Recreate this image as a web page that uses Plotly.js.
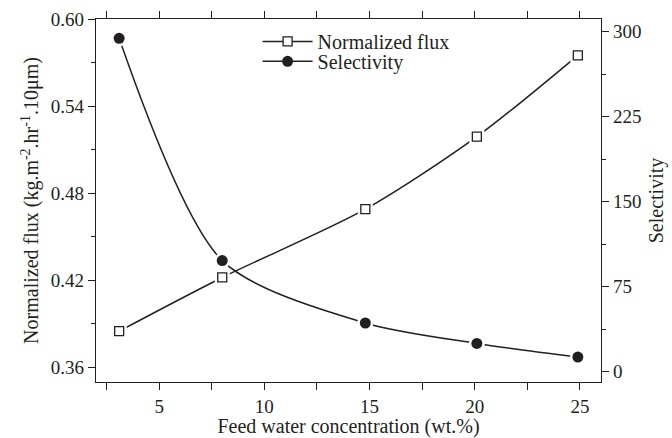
<!DOCTYPE html>
<html>
<head>
<meta charset="utf-8">
<script src="https://cdn.plot.ly/plotly-3.0.1.min.js"></script>
<style>html,body{margin:0;padding:0;background:#fff}#chart{width:672px;height:438px}</style>
</head>
<body>
<div id="chart"></div>
<script>
var feedWater = [3.1, 8.0, 14.8, 20.1, 24.9];
var normalizedFlux = [0.385, 0.422, 0.469, 0.519, 0.575];
var selectivity = [294, 98, 43, 25, 13];
var fluxTicks = [0.36, 0.42, 0.48, 0.54, 0.60];
var fluxTickText = ['0.36', '0.42', '0.48', '0.54', '0.60'];
var selTicks = [0, 75, 150, 225, 300];
var xTicks = [5, 10, 15, 20, 25];

var ink = '#231f20';
var fam = 'Liberation Serif, Times New Roman, serif';
var font = {family: fam, size: 19, color: ink};
var titleFont = {family: fam, size: 20, color: ink};

var traces = [
  {x: feedWater, y: normalizedFlux, name: 'Normalized flux', mode: 'lines+markers', yaxis: 'y', legend: 'legend',
   line: {color: ink, width: 1.5, shape: 'spline', smoothing: 0.8},
   marker: {symbol: 'square', size: 9, color: '#fff', line: {color: ink, width: 1.3}}},
  {x: feedWater, y: selectivity, name: 'Selectivity', mode: 'lines+markers', yaxis: 'y2', legend: 'legend2',
   line: {color: ink, width: 1.5, shape: 'spline', smoothing: 0.8},
   marker: {symbol: 'circle', size: 11, color: ink}},
  {x: feedWater, y: normalizedFlux, mode: 'markers', yaxis: 'y', showlegend: false, hoverinfo: 'skip',
   marker: {symbol: 'square', size: 15, color: '#fff'}},
  {x: feedWater, y: normalizedFlux, mode: 'markers', yaxis: 'y', showlegend: false,
   marker: {symbol: 'square', size: 9, color: '#fff', line: {color: ink, width: 1.3}}},
  {x: feedWater, y: selectivity, mode: 'markers', yaxis: 'y2', showlegend: false, hoverinfo: 'skip',
   marker: {symbol: 'circle', size: 16, color: '#fff'}},
  {x: feedWater, y: selectivity, mode: 'markers', yaxis: 'y2', showlegend: false,
   marker: {symbol: 'circle', size: 11, color: ink}}
];

var legendFont = {family: fam, size: 20, color: ink};
var layout = {
  width: 672, height: 438,
  margin: {l: 96, r: 71, t: 19, b: 56},
  paper_bgcolor: '#fff', plot_bgcolor: '#fff',
  font: font,
  showlegend: true,
  legend: {x: 0.32, y: 0.992, xanchor: 'left', yanchor: 'top', bgcolor: 'rgba(0,0,0,0)',
           font: legendFont, itemwidth: 50},
  legend2: {x: 0.32, y: 0.937, xanchor: 'left', yanchor: 'top', bgcolor: 'rgba(0,0,0,0)',
           font: legendFont, itemwidth: 50},
  xaxis: {range: [2, 26], tickvals: xTicks, ticks: 'outside', ticklen: 7, tickwidth: 1, tickcolor: ink,
          showline: true, linecolor: ink, linewidth: 1.2, mirror: 'allticks', showgrid: false, zeroline: false,
          minor: {dtick: 2.5, tick0: 0, ticks: 'outside', ticklen: 4, tickcolor: ink, showgrid: false},
          title: {text: 'Feed water concentration (wt.%)', font: titleFont, standoff: 6},
          tickfont: font},
  yaxis: {range: [0.35, 0.60], tickvals: fluxTicks, ticktext: fluxTickText, ticks: 'outside', ticklen: 7, tickcolor: ink,
          showline: true, linecolor: ink, linewidth: 1.2, showgrid: false, zeroline: false,
          minor: {dtick: 0.03, tick0: 0.36, ticks: 'outside', ticklen: 4, tickcolor: ink, showgrid: false},
          title: {text: 'Normalized flux (kg.m<sup>-2</sup>.hr<sup>-1</sup>.10μm)', font: titleFont, standoff: 6},
          tickfont: font},
  yaxis2: {range: [-9, 311], overlaying: 'y', side: 'right', tickvals: selTicks, ticks: 'outside', ticklen: 7, tickcolor: ink,
           showline: true, linecolor: ink, linewidth: 1.2, showgrid: false, zeroline: false,
           minor: {dtick: 37.5, tick0: 0, ticks: 'outside', ticklen: 4, tickcolor: ink, showgrid: false},
           title: {text: 'Selectivity', font: titleFont, standoff: 8},
           tickfont: font}
};

Plotly.newPlot('chart', traces, layout, {displayModeBar: false, staticPlot: true});
</script>
</body>
</html>
